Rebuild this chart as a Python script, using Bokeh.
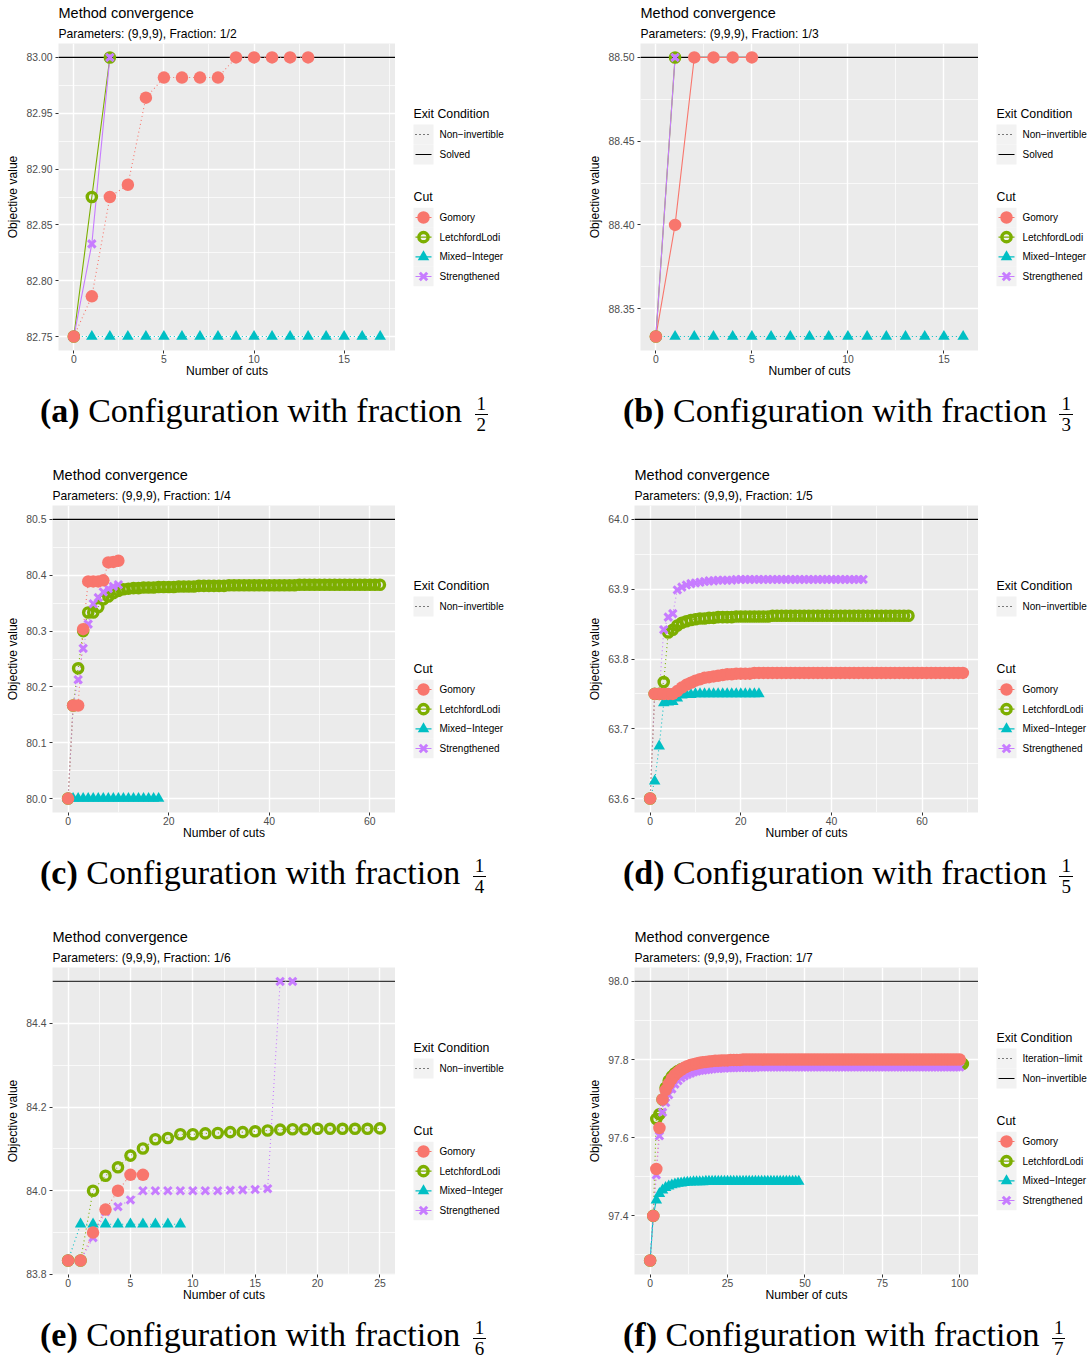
from bokeh.plotting import figure
from bokeh.models import Range1d, FixedTicker, PrintfTickFormatter, Span, Title, Div
from bokeh.layouts import row, column
from bokeh.embed import file_html
from bokeh.resources import INLINE
from bokeh.core.properties import value

# ---------------- data ----------------
CUTS = ["Gomory", "LetchfordLodi", "Mixed−Integer", "Strengthened"]
COLORS = ["#F8766D", "#7CAE00", "#00BFC4", "#C77CFF"]

# (a) fraction 1/2
a_gomory = [82.75, 82.786, 82.875, 82.886, 82.964, 82.982, 82.982, 82.982, 82.982, 83.0,
            83.0, 83.0, 83.0, 83.0]
a_letchford = [82.75, 82.875, 83.0]
a_mixed = [82.75, 82.75, 82.75, 82.75, 82.75, 82.75, 82.75, 82.75, 82.75, 82.75,
           82.75, 82.75, 82.75, 82.75, 82.75, 82.75, 82.75, 82.75]
a_strength = [82.75, 82.833, 83.0]
a_optimum = 83.0
a_exit_of_cut = ["Non−invertible", "Solved", "Non−invertible", "Solved"]
a_exits = ["Non−invertible", "Solved"]
a_yticks = [82.75, 82.80, 82.85, 82.90, 82.95, 83.00]
a_yminor = [82.775, 82.825, 82.875, 82.925, 82.975]
a_xticks = [0, 5, 10, 15]
a_xminor = [2.5, 7.5, 12.5, 17.5]

# (b) fraction 1/3
b_gomory = [88.3333, 88.40, 88.5, 88.5, 88.5, 88.5]
b_letchford = [88.3333, 88.5]
b_mixed = [88.3333, 88.3333, 88.3333, 88.3333, 88.3333, 88.3333, 88.3333, 88.3333, 88.3333,
           88.3333, 88.3333, 88.3333, 88.3333, 88.3333, 88.3333, 88.3333, 88.3333]
b_strength = [88.3333, 88.5]
b_optimum = 88.5
b_exit_of_cut = ["Solved", "Solved", "Non−invertible", "Solved"]
b_exits = ["Non−invertible", "Solved"]
b_yticks = [88.35, 88.40, 88.45, 88.50]
b_yminor = [88.375, 88.425, 88.475]
b_xticks = [0, 5, 10, 15]
b_xminor = [2.5, 7.5, 12.5]

# (c) fraction 1/4
c_gomory = [80.0, 80.1667, 80.1667, 80.3035, 80.389, 80.389, 80.389, 80.391, 80.423, 80.424,
            80.426]
c_letchford = [80.0, 80.1667, 80.2333, 80.3, 80.3333, 80.3333, 80.343, 80.357, 80.362, 80.368,
               80.372, 80.375, 80.376, 80.377, 80.377, 80.378, 80.378, 80.378, 80.379, 80.379,
               80.379, 80.379, 80.38, 80.38, 80.38, 80.38, 80.381, 80.381, 80.381, 80.381,
               80.381, 80.381, 80.382, 80.382, 80.382, 80.382, 80.382, 80.382, 80.382, 80.382,
               80.382, 80.382, 80.382, 80.382, 80.382, 80.382, 80.383, 80.383, 80.383, 80.383,
               80.383, 80.383, 80.383, 80.383, 80.383, 80.383, 80.383, 80.383, 80.383, 80.383,
               80.383, 80.383, 80.383]
c_mixed = [80.0, 80.0, 80.0, 80.0, 80.0, 80.0, 80.0, 80.0, 80.0, 80.0,
           80.0, 80.0, 80.0, 80.0, 80.0, 80.0, 80.0, 80.0, 80.0]
c_strength = [80.0, 80.1667, 80.213, 80.269, 80.3125, 80.349, 80.36, 80.37, 80.376, 80.38,
              80.383]
c_optimum = 80.5
c_exit_of_cut = ["Non−invertible", "Non−invertible", "Non−invertible", "Non−invertible"]
c_exits = ["Non−invertible"]
c_yticks = [80.0, 80.1, 80.2, 80.3, 80.4, 80.5]
c_yminor = [80.05, 80.15, 80.25, 80.35, 80.45]
c_xticks = [0, 20, 40, 60]
c_xminor = [10, 30, 50]

# (d) fraction 1/5
d_gomory = [63.6, 63.75, 63.75, 63.75, 63.75, 63.75, 63.754, 63.759, 63.763, 63.766,
            63.769, 63.771, 63.773, 63.774, 63.775, 63.776, 63.777, 63.778, 63.778, 63.779,
            63.779, 63.779, 63.779, 63.78, 63.78, 63.78, 63.78, 63.78, 63.78, 63.78,
            63.78, 63.78, 63.78, 63.78, 63.78, 63.78, 63.78, 63.78, 63.78, 63.78,
            63.78, 63.78, 63.78, 63.78, 63.78, 63.78, 63.78, 63.78, 63.78, 63.78,
            63.78, 63.78, 63.78, 63.78, 63.78, 63.78, 63.78, 63.78, 63.78, 63.78,
            63.78, 63.78, 63.78, 63.78, 63.78, 63.78, 63.78, 63.78, 63.78, 63.78]
d_letchford = [63.6, 63.75, 63.75, 63.767, 63.838, 63.842, 63.848, 63.852, 63.854, 63.856,
               63.857, 63.858, 63.858, 63.859, 63.859, 63.86, 63.86, 63.86, 63.86, 63.861,
               63.861, 63.861, 63.861, 63.861, 63.861, 63.861, 63.861, 63.862, 63.862, 63.862,
               63.862, 63.862, 63.862, 63.862, 63.862, 63.862, 63.862, 63.862, 63.862, 63.862,
               63.862, 63.862, 63.862, 63.862, 63.862, 63.862, 63.862, 63.862, 63.862, 63.862,
               63.862, 63.862, 63.862, 63.862, 63.862, 63.862, 63.862, 63.862]
d_mixed = [63.6, 63.625, 63.675, 63.737, 63.738, 63.739, 63.744, 63.748, 63.749, 63.749,
           63.75, 63.75, 63.75, 63.75, 63.75, 63.75, 63.75, 63.75, 63.75, 63.75,
           63.75, 63.75, 63.75, 63.75, 63.75]
d_strength = [63.6, 63.75, 63.75, 63.842, 63.86, 63.865, 63.899, 63.903, 63.906, 63.908,
              63.909, 63.91, 63.911, 63.912, 63.912, 63.913, 63.913, 63.913, 63.913, 63.914,
              63.914, 63.914, 63.914, 63.914, 63.914, 63.914, 63.914, 63.914, 63.914, 63.914,
              63.914, 63.914, 63.914, 63.914, 63.914, 63.914, 63.914, 63.914, 63.914, 63.914,
              63.914, 63.914, 63.914, 63.914, 63.914, 63.914, 63.914, 63.914]
d_optimum = 64.0
d_exit_of_cut = ["Non−invertible", "Non−invertible", "Non−invertible", "Non−invertible"]
d_exits = ["Non−invertible"]
d_yticks = [63.6, 63.7, 63.8, 63.9, 64.0]
d_yminor = [63.65, 63.75, 63.85, 63.95]
d_xticks = [0, 20, 40, 60]
d_xminor = [10, 30, 50, 70]

# (e) fraction 1/6
e_gomory = [83.8333, 83.8333, 83.9, 83.955, 84.0, 84.038, 84.038]
e_letchford = [83.8333, 83.8333, 84.0, 84.036, 84.056, 84.084, 84.101, 84.123, 84.126, 84.135,
               84.135, 84.137, 84.138, 84.14, 84.14, 84.142, 84.144, 84.146, 84.147, 84.147,
               84.148, 84.148, 84.148, 84.148, 84.148, 84.149]
e_mixed = [83.8333, 83.92, 83.92, 83.92, 83.92, 83.92, 83.92, 83.92, 83.92, 83.92]
e_strength = [83.8333, 83.8333, 83.888, 83.95, 83.962, 83.978, 84.0, 84.0, 84.0, 84.0,
              84.0, 84.0, 84.0, 84.001, 84.002, 84.003, 84.005, 84.5, 84.5]
e_optimum = 84.5
e_exit_of_cut = ["Non−invertible", "Non−invertible", "Non−invertible", "Non−invertible"]
e_exits = ["Non−invertible"]
e_yticks = [83.8, 84.0, 84.2, 84.4]
e_yminor = [83.9, 84.1, 84.3, 84.5]
e_xticks = [0, 5, 10, 15, 20, 25]
e_xminor = [2.5, 7.5, 12.5, 17.5, 22.5]

# (f) fraction 1/7
f_gomory = [97.2857, 97.4, 97.52, 97.625, 97.698, 97.722, 97.738, 97.751, 97.761, 97.768,
            97.774, 97.779, 97.783, 97.786, 97.788, 97.79, 97.792, 97.793, 97.794, 97.795,
            97.796, 97.797, 97.797, 97.798, 97.798, 97.798, 97.799, 97.799, 97.799, 97.799,
            97.8, 97.8, 97.8, 97.8, 97.8, 97.8, 97.8, 97.8, 97.8, 97.8,
            97.8, 97.8, 97.8, 97.8, 97.8, 97.8, 97.8, 97.8, 97.8, 97.8,
            97.8, 97.8, 97.8, 97.8, 97.8, 97.8, 97.8, 97.8, 97.8, 97.8,
            97.8, 97.8, 97.8, 97.8, 97.8, 97.8, 97.8, 97.8, 97.8, 97.8,
            97.8, 97.8, 97.8, 97.8, 97.8, 97.8, 97.8, 97.8, 97.8, 97.8,
            97.8, 97.8, 97.8, 97.8, 97.8, 97.8, 97.8, 97.8, 97.8, 97.8,
            97.8, 97.8, 97.8, 97.8, 97.8, 97.8, 97.8, 97.8, 97.8, 97.8,
            97.8]
f_letchford = [97.2857, 97.4, 97.648, 97.66, 97.698, 97.728, 97.746, 97.757, 97.765, 97.771,
               97.775, 97.778, 97.78, 97.782, 97.783, 97.784, 97.785, 97.786, 97.786, 97.787,
               97.787, 97.788, 97.788, 97.788, 97.788, 97.788, 97.788, 97.788, 97.788, 97.788,
               97.789, 97.789, 97.789, 97.789, 97.789, 97.789, 97.789, 97.789, 97.789, 97.789,
               97.789, 97.789, 97.789, 97.789, 97.789, 97.789, 97.789, 97.789, 97.789, 97.789,
               97.789, 97.789, 97.789, 97.789, 97.789, 97.789, 97.789, 97.789, 97.789, 97.789,
               97.789, 97.789, 97.789, 97.789, 97.789, 97.789, 97.789, 97.789, 97.789, 97.789,
               97.789, 97.789, 97.789, 97.789, 97.789, 97.789, 97.789, 97.789, 97.789, 97.789,
               97.789, 97.789, 97.789, 97.789, 97.789, 97.789, 97.789, 97.789, 97.789, 97.789,
               97.789, 97.789, 97.789, 97.789, 97.789, 97.789, 97.789, 97.789, 97.789, 97.789,
               97.789, 97.789]
f_mixed = [97.2857, 97.4, 97.44, 97.457, 97.466, 97.472, 97.476, 97.479, 97.481, 97.483,
           97.484, 97.485, 97.486, 97.486, 97.487, 97.487, 97.487, 97.487, 97.488, 97.488,
           97.488, 97.488, 97.488, 97.488, 97.488, 97.488, 97.488, 97.488, 97.488, 97.488,
           97.488, 97.488, 97.488, 97.488, 97.488, 97.488, 97.488, 97.488, 97.488, 97.488,
           97.488, 97.488, 97.488, 97.488, 97.488, 97.488, 97.488, 97.488, 97.488]
f_strength = [97.2857, 97.4, 97.505, 97.605, 97.665, 97.69, 97.71, 97.725, 97.737, 97.746,
              97.753, 97.758, 97.762, 97.765, 97.768, 97.77, 97.772, 97.773, 97.774, 97.775,
              97.776, 97.777, 97.777, 97.778, 97.778, 97.779, 97.779, 97.779, 97.78, 97.78,
              97.78, 97.78, 97.78, 97.78, 97.78, 97.781, 97.781, 97.781, 97.781, 97.781,
              97.781, 97.781, 97.781, 97.781, 97.781, 97.781, 97.781, 97.781, 97.781, 97.781,
              97.781, 97.781, 97.781, 97.781, 97.781, 97.781, 97.781, 97.781, 97.781, 97.781,
              97.781, 97.781, 97.781, 97.781, 97.781, 97.781, 97.781, 97.781, 97.781, 97.781,
              97.781, 97.781, 97.781, 97.781, 97.781, 97.781, 97.781, 97.781, 97.781, 97.781,
              97.781, 97.781, 97.781, 97.781, 97.781, 97.781, 97.781, 97.781, 97.781, 97.781,
              97.781, 97.781, 97.781, 97.781, 97.781, 97.781, 97.781, 97.781, 97.781, 97.781,
              97.781]
f_optimum = 98.0
f_exit_of_cut = ["Iteration−limit", "Iteration−limit", "Non−invertible", "Iteration−limit"]
f_exits = ["Iteration−limit", "Non−invertible"]
f_yticks = [97.4, 97.6, 97.8, 98.0]
f_yminor = [97.3, 97.5, 97.7, 97.9]
f_xticks = [0, 25, 50, 75, 100]
f_xminor = [12.5, 37.5, 62.5, 87.5]

# --------------- styling ---------------
FONT = "Liberation Sans"
SERIF = "Liberation Serif"
PANEL_BG = "#EBEBEB"
KEY_BG = "#F2F2F2"
DOTTED = "1 3"
FIG_H = 385
BT, BB = 43, 35   # top / bottom borders of every panel
TICK_FS = "10.4px"
LEG_FS = "10px"


def exit_dash(name, exits):
    # first exit level is drawn dotted, second solid (ggplot linetype order)
    return DOTTED if exits.index(name) == 0 else "solid"


def make_plot(spec):
    series = spec["series"]
    allv = [v for s in series for v in s] + [spec["opt"]]
    ymin, ymax = min(allv), max(allv)
    ypad = 0.05 * (ymax - ymin)
    xmax = max(len(s) for s in series) - 1
    xpad = 0.05 * xmax
    p = figure(width=spec["w"], height=FIG_H, title=None,
               x_range=Range1d(-xpad, xmax + xpad), y_range=Range1d(ymin - ypad, ymax + ypad),
               output_backend="svg", toolbar_location=None,
               min_border_left=spec["bl"], min_border_right=0, min_border_top=BT,
               min_border_bottom=BB, background_fill_color=PANEL_BG,
               border_fill_color="white", outline_line_color=None)
    p.add_layout(Title(text=spec["sub"], text_font=FONT, text_font_size="12.1px",
                       text_font_style="normal", text_color="black", align="left",
                       standoff=6), "above")
    p.add_layout(Title(text="Method convergence", text_font=FONT, text_font_size="14.5px",
                       text_font_style="normal", text_color="black", align="left",
                       standoff=2), "above")
    p.xaxis.ticker = FixedTicker(ticks=spec["xticks"], minor_ticks=spec["xminor"])
    p.yaxis.ticker = FixedTicker(ticks=spec["yticks"], minor_ticks=spec["yminor"])
    p.xaxis.formatter = PrintfTickFormatter(format="%d")
    p.yaxis.formatter = PrintfTickFormatter(format=spec["yfmt"])
    p.xaxis.axis_label = "Number of cuts"
    p.yaxis.axis_label = "Objective value"
    for ax in (p.xaxis[0], p.yaxis[0]):
        ax.axis_line_color = None
        ax.major_tick_line_color = "#333333"
        ax.major_tick_line_width = 1
        ax.major_tick_out = 3
        ax.major_tick_in = 0
        ax.minor_tick_line_color = None
        ax.major_label_text_font = FONT
        ax.major_label_text_font_size = TICK_FS
        ax.major_label_text_color = "#4D4D4D"
        ax.axis_label_text_font = FONT
        ax.axis_label_text_font_size = "12.1px"
        ax.axis_label_text_font_style = "normal"
        ax.axis_label_text_color = "black"
    p.xaxis.major_label_standoff = 0
    p.xaxis.axis_label_standoff = -2
    p.yaxis.major_label_standoff = 2
    p.yaxis.axis_label_standoff = 3
    for g in (p.xgrid[0], p.ygrid[0]):
        g.grid_line_color = "white"
        g.grid_line_width = 1.4
        g.minor_grid_line_color = "white"
        g.minor_grid_line_width = 0.7
    p.add_layout(Span(location=spec["opt"], dimension="width", line_color=spec["optcol"],
                      line_width=1.3, level="underlay"))
    # lines
    for s, col, ex in zip(series, COLORS, spec["exit_of_cut"]):
        xs = list(range(len(s)))
        p.line(xs, s, line_color=col, line_width=1.1, line_dash=exit_dash(ex, spec["exits"]))
    # points: LetchfordLodi, Mixed-Integer, Strengthened, then Gomory on top
    for i in [1, 2, 3, 0]:
        s = series[i]
        draw_marker(p, list(range(len(s))), s, i)
    return p


def draw_marker(p, xs, ys, i):
    col = COLORS[i]
    if i == 0:
        p.scatter(xs, ys, marker="circle", size=12.5, fill_color=col, line_color=None)
    elif i == 1:
        p.scatter(xs, ys, marker="circle", size=9.2, fill_color=None, line_color=col,
                  line_width=3.4)
    elif i == 2:
        p.scatter(xs, ys, marker="triangle", size=11.5, fill_color=col, line_color=None)
    else:
        p.scatter(xs, ys, marker="x", size=10.5, line_color=col, line_width=3.0)


def make_legend(width, exits):
    # frame spans the same pixels as the neighbouring panel; ranges are in page pixels
    lf = figure(width=width, height=FIG_H, x_range=Range1d(0, width),
                y_range=Range1d(FIG_H - BB, BT),
                output_backend="svg", toolbar_location=None, title=None,
                min_border_left=0, min_border_right=0, min_border_top=BT, min_border_bottom=BB,
                x_axis_location=None, y_axis_location=None, outline_line_color=None,
                background_fill_color="white", border_fill_color="white")
    lf.grid.visible = False
    n = len(exits)
    y0 = 113 + (2 - n) * 10
    kx0, kx1, kc = 18, 38, 28
    lf.text(x=[kx0], y=[y0], text=["Exit Condition"], text_font=value(FONT),
            text_font_size="12.3px", text_baseline="middle", text_color="black")
    ey = [y0 + 21 + 20 * k for k in range(n)]
    lf.rect(x=[kc] * n, y=ey, width=20, height=20, fill_color=KEY_BG, line_color=None)
    for k, name in enumerate(exits):
        lf.segment(x0=[kx0 + 2], y0=[ey[k]], x1=[kx1 - 2], y1=[ey[k]], line_color="black",
                   line_width=1.1, line_dash=exit_dash(name, exits))
    lf.text(x=[44] * n, y=ey, text=exits, text_font=value(FONT), text_font_size=LEG_FS,
            text_baseline="middle", text_color="black")
    cy_title = y0 + 83
    lf.text(x=[kx0], y=[cy_title], text=["Cut"], text_font=value(FONT),
            text_font_size="12.3px", text_baseline="middle", text_color="black")
    cy = [cy_title + 21 + 19.67 * k for k in range(4)]
    lf.rect(x=[kc] * 4, y=cy, width=20, height=19.67, fill_color=KEY_BG, line_color=None)
    for k in range(4):
        lf.segment(x0=[kx0 + 2], y0=[cy[k]], x1=[kx1 - 2], y1=[cy[k]], line_color=COLORS[k],
                   line_width=1.1)
        draw_marker(lf, [kc], [cy[k]], k)
    lf.text(x=[44] * 4, y=cy, text=CUTS, text_font=value(FONT), text_font_size=LEG_FS,
            text_baseline="middle", text_color="black")
    return lf


def caption(letter, den, pad_left, width, height):
    html = (f'<div style="white-space:nowrap;font-family:\'{SERIF}\',serif;font-size:34px;'
            f'color:#000;padding-left:{pad_left}px;padding-top:6px;line-height:40px;">'
            f'<b style="font-weight:600">({letter})</b> Configuration with fraction '
            f'<span style="display:inline-block;vertical-align:middle;text-align:center;'
            f'font-size:19px;line-height:18px;margin-left:4px;">'
            f'<span style="display:block;padding:0 2px 1px 2px;">1</span>'
            f'<span style="display:block;border-top:1.3px solid #000;padding:1px 2px 0 2px;">'
            f'{den}</span></span></div>')
    return Div(text=html, width=width, height=height, margin=0)


specs = [
    dict(tag="a", den="2", sub="Parameters: (9,9,9), Fraction: 1/2",
         series=[a_gomory, a_letchford, a_mixed, a_strength], opt=a_optimum,
         exit_of_cut=a_exit_of_cut, exits=a_exits, yticks=a_yticks, yminor=a_yminor,
         xticks=a_xticks, xminor=a_xminor, yfmt="%.2f", bl=58, w=395, optcol="black"),
    dict(tag="b", den="3", sub="Parameters: (9,9,9), Fraction: 1/3",
         series=[b_gomory, b_letchford, b_mixed, b_strength], opt=b_optimum,
         exit_of_cut=b_exit_of_cut, exits=b_exits, yticks=b_yticks, yminor=b_yminor,
         xticks=b_xticks, xminor=b_xminor, yfmt="%.2f", bl=94, w=432, optcol="black"),
    dict(tag="c", den="4", sub="Parameters: (9,9,9), Fraction: 1/4",
         series=[c_gomory, c_letchford, c_mixed, c_strength], opt=c_optimum,
         exit_of_cut=c_exit_of_cut, exits=c_exits, yticks=c_yticks, yminor=c_yminor,
         xticks=c_xticks, xminor=c_xminor, yfmt="%.1f", bl=52, w=395, optcol="black"),
    dict(tag="d", den="5", sub="Parameters: (9,9,9), Fraction: 1/5",
         series=[d_gomory, d_letchford, d_mixed, d_strength], opt=d_optimum,
         exit_of_cut=d_exit_of_cut, exits=d_exits, yticks=d_yticks, yminor=d_yminor,
         xticks=d_xticks, xminor=d_xminor, yfmt="%.1f", bl=88, w=432, optcol="black"),
    dict(tag="e", den="6", sub="Parameters: (9,9,9), Fraction: 1/6",
         series=[e_gomory, e_letchford, e_mixed, e_strength], opt=e_optimum,
         exit_of_cut=e_exit_of_cut, exits=e_exits, yticks=e_yticks, yminor=e_yminor,
         xticks=e_xticks, xminor=e_xminor, yfmt="%.1f", bl=52, w=395, optcol="#3a3a3a"),
    dict(tag="f", den="7", sub="Parameters: (9,9,9), Fraction: 1/7",
         series=[f_gomory, f_letchford, f_mixed, f_strength], opt=f_optimum,
         exit_of_cut=f_exit_of_cut, exits=f_exits, yticks=f_yticks, yminor=f_yminor,
         xticks=f_xticks, xminor=f_xminor, yfmt="%.1f", bl=88, w=432, optcol="#3a3a3a"),
]

rows = []
for r in range(3):
    L, R = specs[2 * r], specs[2 * r + 1]
    plot_row = row(make_plot(L), make_legend(546 - L["w"], L["exits"]),
                   make_plot(R), make_legend(1092 - 546 - R["w"], R["exits"]),
                   spacing=0, margin=0)
    cap_h = 77 if r < 2 else 50
    cap_row = row(caption(L["tag"], L["den"], 40, 546, cap_h),
                  caption(R["tag"], R["den"], 77, 546, cap_h), spacing=0, margin=0)
    rows.append(plot_row)
    rows.append(cap_row)

layout = column(*rows, spacing=0, margin=0)
open("out.html", "w").write(file_html(layout, INLINE))
